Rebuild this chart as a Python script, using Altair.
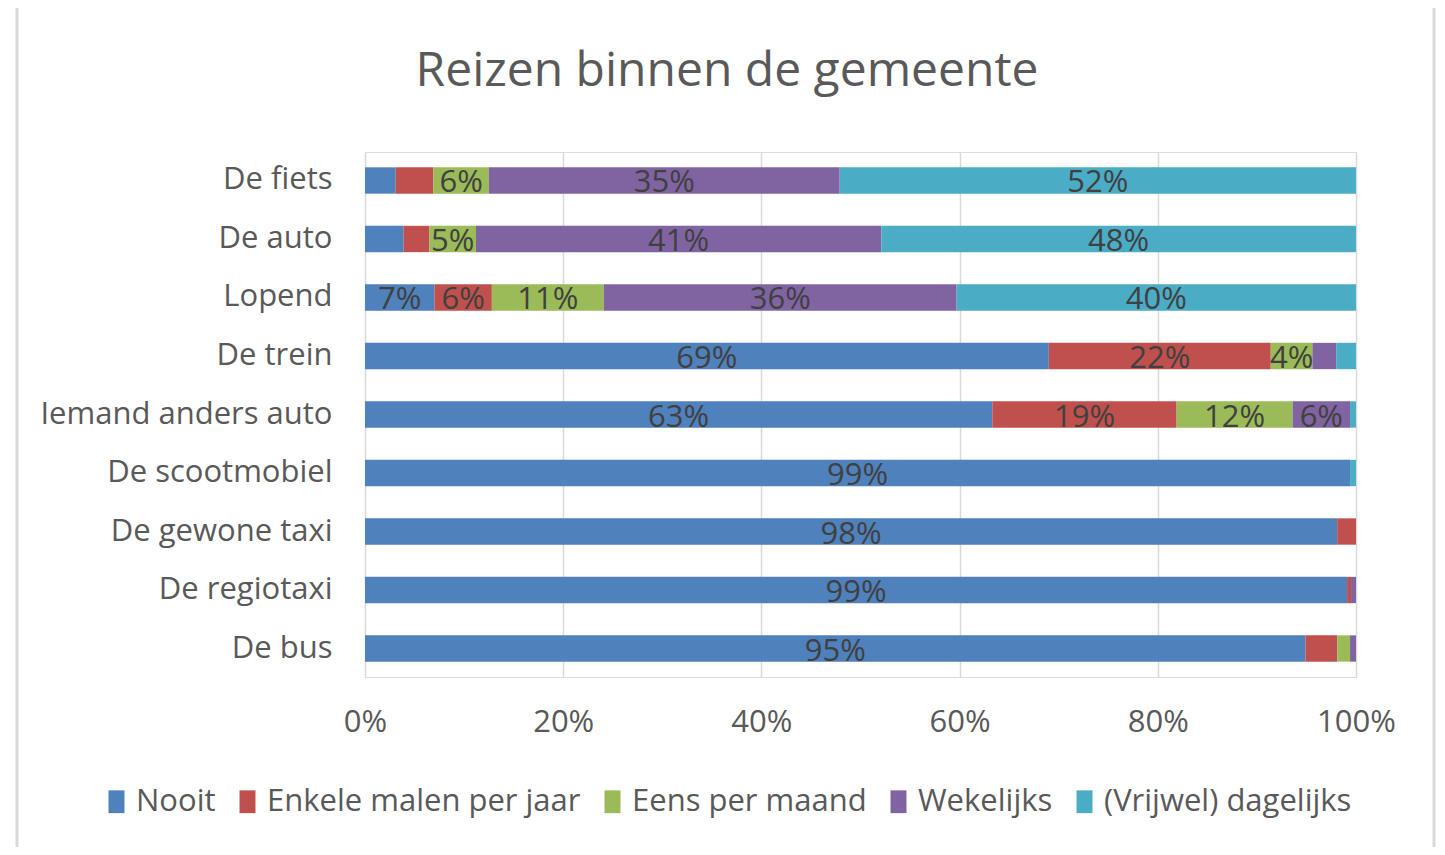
import altair as alt
import pandas as pd

title_text = "Reizen binnen de gemeente"
modes = ["De fiets", "De auto", "Lopend", "De trein", "Iemand anders auto",
         "De scootmobiel", "De gewone taxi", "De regiotaxi", "De bus"]
freqs = ["Nooit", "Enkele malen per jaar", "Eens per maand", "Wekelijks", "(Vrijwel) dagelijks"]
colors = ["#4F81BD", "#C0504D", "#9BBB59", "#8064A2", "#4BACC6"]
x_ticks = [0, 0.2, 0.4, 0.6, 0.8, 1.0]

# percentages per mode, in order of freqs
nooit     = [3.1, 3.9, 7.0, 69.0, 63.3, 99.4, 98.1, 99.1, 94.9]
enkele    = [3.8, 2.6, 5.8, 22.4, 18.6, 0.0, 1.9, 0.4, 3.2]
eens      = [5.6, 4.7, 11.3, 4.2, 11.7, 0.0, 0.0, 0.0, 1.3]
wekelijks = [35.4, 40.9, 35.6, 2.4, 5.8, 0.0, 0.0, 0.5, 0.6]
dagelijks = [52.1, 47.9, 40.3, 2.0, 0.6, 0.6, 0.0, 0.0, 0.0]

series = [nooit, enkele, eens, wekelijks, dagelijks]
rows = []
for fi, (f, vals) in enumerate(zip(freqs, series)):
    for m, v in zip(modes, vals):
        rows.append({"mode": m, "freq": f, "order": fi, "share": v / 100.0})
df = pd.DataFrame(rows)

FONT = "Open Sans"
TXT = "#595959"
FS = 31

base = alt.Chart(df).transform_stack(
    stack="share", groupby=["mode"], as_=["x0", "x1"], sort=[alt.SortField("order")]
).transform_calculate(mid="(datum.x0 + datum.x1) / 2")

y_enc = alt.Y("mode:N", sort=modes, title=None,
              scale=alt.Scale(paddingInner=0.55, paddingOuter=0.262),
              axis=alt.Axis(labelFont=FONT, labelFontSize=FS, labelColor=TXT,
                            labelPadding=33, ticks=False, domain=False, labelLimit=500))

bars = base.mark_bar().encode(
    y=y_enc,
    x=alt.X("x0:Q", scale=alt.Scale(domain=[0, 1]), title=None,
            axis=alt.Axis(format=".0%", values=x_ticks, labelFlush=False,
                          labelFont=FONT, labelFontSize=FS, labelColor=TXT,
                          labelPadding=30, ticks=False, domain=False,
                          grid=True, gridColor="#d9d9d9", gridWidth=1.5)),
    x2="x1:Q",
    color=alt.Color("freq:N", sort=freqs,
                    scale=alt.Scale(domain=freqs, range=colors),
                    legend=alt.Legend(title=None, orient="none", direction="horizontal",
                                      columns=5, legendX=-264, legendY=634,
                                      labelFont=FONT, labelFontSize=FS, labelColor=TXT,
                                      labelLimit=600,
                                      symbolType="M-0.7,-1L0.7,-1L0.7,1L-0.7,1Z",
                                      symbolSize=520, symbolStrokeWidth=0,
                                      symbolOpacity=1, labelOffset=4,
                                      columnPadding=16)),
)

labels = base.transform_filter("datum.share > 0.041").mark_text(
    font=FONT, fontSize=FS, color="#404040", baseline="middle", dy=3
).encode(
    y=alt.Y("mode:N", sort=modes),
    x=alt.X("mid:Q"),
    text=alt.Text("share:Q", format=".0%"),
)

title = alt.Chart(pd.DataFrame({"a": [0]})).mark_text(
    font=FONT, fontSize=48, color=TXT, align="center", baseline="alphabetic"
).encode(x=alt.value(362), y=alt.value(-66), text=alt.value(title_text))

frame = alt.Chart(pd.DataFrame({"a": [0]})).mark_rect(
    fillOpacity=0, stroke="#d9d9d9", strokeWidth=3
).encode(x=alt.value(-348), x2=alt.value(1069), y=alt.value(-147), y2=alt.value(712))

chart = alt.layer(frame, bars, labels, title).properties(
    width=991, height=525,
    autosize=alt.AutoSizeParams(type="none"),
    padding={"left": 357, "top": 144, "right": 81, "bottom": 170},
).configure_view(stroke=None).configure(background="white")

chart.save("out.html", embed_options={"renderer": "svg", "actions": False})
